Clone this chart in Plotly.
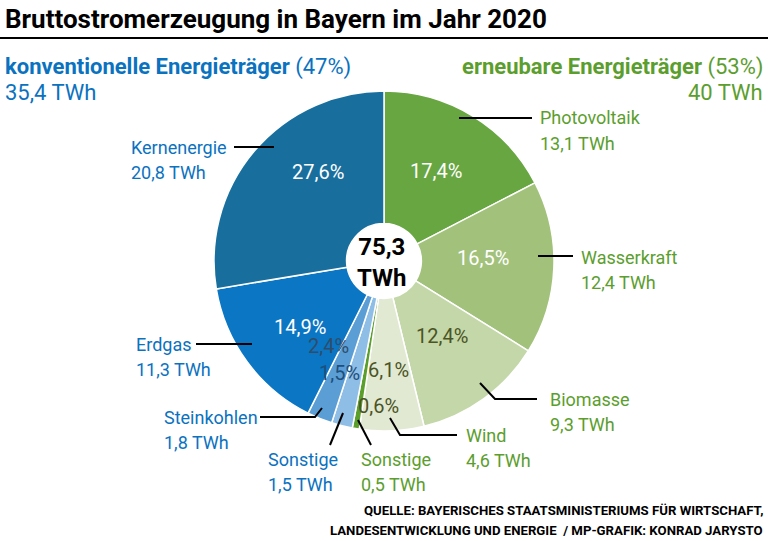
import plotly.graph_objects as go

# ---------------- data ----------------
labels = ["Photovoltaik", "Wasserkraft", "Biomasse", "Wind", "Sonstige (erneuerbar)",
          "Sonstige (konventionell)", "Steinkohlen", "Erdgas", "Kernenergie"]
twh = [13.1, 12.4, 9.3, 4.6, 0.5, 1.5, 1.8, 11.3, 20.8]
pct_labels = ["17,4%", "16,5%", "12,4%", "6,1%", "0,6%", "1,5%", "2,4%", "14,9%", "27,6%"]
name_labels = ["Photovoltaik", "Wasserkraft", "Biomasse", "Wind", "Sonstige",
               "Sonstige", "Steinkohlen", "Erdgas", "Kernenergie"]
twh_labels = ["13,1 TWh", "12,4 TWh", "9,3 TWh", "4,6 TWh", "0,5 TWh",
              "1,5 TWh", "1,8 TWh", "11,3 TWh", "20,8 TWh"]
total_label = "75,3<br>TWh"
title_text = "Bruttostromerzeugung in Bayern im Jahr 2020"
conv_head = ("konventionelle Energieträger", "(47%)", "35,4 TWh")
ren_head = ("erneubare Energieträger", "(53%)", "40 TWh")
source_lines = ["QUELLE: BAYERISCHES STAATSMINISTERIUMS FÜR WIRTSCHAFT,",
                "LANDESENTWICKLUNG UND ENERGIE  / MP-GRAFIK: KONRAD JARYSTO"]

# ---------------- styles ----------------
W, H = 768, 541
FONT = "Roboto, Liberation Sans, sans-serif"
BLUE = "#0b72c0"
GREEN = "#5b9e2e"
slice_colors = ["#67a641", "#a2c27c", "#c4d7a8", "#e1e9d3", "#5a9e2c",
                "#8ebde6", "#5b9ed6", "#0a76c4", "#186f9e"]
label_colors = [GREEN] * 5 + [BLUE] * 4
pct_colors = ["white", "white", "#4b5424", "#4b5424", "#4b5424",
              "#1f4f7a", "#2f4d6b", "white", "white"]

# pixel positions (layout)
cx, cy, R = 384, 261, 170
pct_pos = [(436, 171), (483, 258), (442, 336), (388, 370), (378, 406),
           (339, 373), (328, 346), (300, 327), (318, 172)]
label_pos = [(539, 118), (580, 257), (549, 399), (465, 435), (360, 459),
             (267, 459), (163, 417), (135, 344), (130, 147)]
leaders = [
    [(459, 118), (532, 118)],
    [(538, 256), (573, 256)],
    [(480, 383), (495, 399), (537, 399)],
    [(390, 418), (400, 435), (457, 435)],
    [(358, 420), (371, 445)],
    [(343, 413), (330, 445)],
    [(322, 408), (315, 417), (260, 417)],
    [(252, 344), (196, 344)],
    [(274, 147), (234, 147)],
]


def px(x, y):
    return x / W, 1 - y / H


fig = go.Figure()
fig.add_trace(go.Pie(
    labels=labels, values=twh, sort=False, direction="clockwise", rotation=0,
    hole=0.22, textinfo="none", hoverinfo="label+value",
    marker=dict(colors=slice_colors, line=dict(color="white", width=1.5)),
    domain=dict(x=[(cx - R) / W, (cx + R) / W], y=[1 - (cy + R) / H, 1 - (cy - R) / H]),
    showlegend=False,
))

ann = []


def add_text(x_px, y_px, text, size, color, anchor="left"):
    x, y = px(x_px, y_px)
    ann.append(dict(x=x, y=y, xref="paper", yref="paper", xanchor=anchor, yanchor="middle",
                    text=text, showarrow=False, borderpad=0,
                    font=dict(family=FONT, size=size, color=color)))


add_text(4, 19, "<b>" + title_text + "</b>", 26, "black")
add_text(4, 67, "<b>%s</b> %s" % conv_head[:2], 22, BLUE)
add_text(4, 93, conv_head[2], 22, BLUE)
add_text(764, 67, "<b>%s</b> %s" % ren_head[:2], 22, GREEN, "right")
add_text(764, 93, ren_head[2], 22, GREEN, "right")
add_text(cx - 2, cy + 2, "<b>" + total_label + "</b>", 24, "black", "center")
for t, (lx, ly), c in zip(pct_labels, pct_pos, pct_colors):
    add_text(lx, ly, t, 20, c, "center")
for n, v, (lx, ly), c in zip(name_labels, twh_labels, label_pos, label_colors):
    add_text(lx, ly, n, 18, c)
    add_text(lx, ly + 25, v, 18, c)
for i, s in enumerate(source_lines):
    add_text(764, 510 + 20 * i, "<b>" + s + "</b>", 13.2, "black", "right")

shapes = []
x0, y0 = px(0, 38)
x1, _ = px(W, 38)
shapes.append(dict(type="line", xref="paper", yref="paper", x0=x0, y0=y0, x1=x1, y1=y0,
                   line=dict(color="black", width=2)))
for pts in leaders:
    path = "M " + " L ".join("%f,%f" % (p[0] / W, 1 - p[1] / H) for p in pts)
    shapes.append(dict(type="path", xref="paper", yref="paper", path=path,
                       line=dict(color="black", width=2)))

fig.update_layout(
    width=W, height=H, margin=dict(l=0, r=0, t=0, b=0),
    paper_bgcolor="white", plot_bgcolor="white",
    annotations=ann, shapes=shapes,
)
fig.write_html("out.html", config={"displayModeBar": False},
               post_script="document.body.style.margin='0';")
